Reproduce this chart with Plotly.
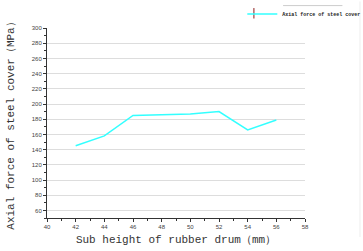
import plotly.graph_objects as go

x_vals = [42, 44, 46, 48, 50, 52, 54, 56]
y_vals = [145, 158, 185, 186, 187, 190, 166, 179]
series_name = "<b>Axial force of steel cover</b>"
x_title = "Sub height of rubber drum（mm）"
y_title = "Axial force of steel cover（MPa）"

fig = go.Figure()
fig.add_trace(go.Scatter(x=x_vals, y=y_vals, mode="lines", name=series_name,
                         line=dict(color="#33ffff", width=1.5)))

fig.update_layout(
    width=363, height=251,
    margin=dict(l=47, r=58, t=28, b=33, autoexpand=False),
    paper_bgcolor="white", plot_bgcolor="white",
    showlegend=True,
    legend=dict(x=0.757, y=1.074, xref="paper", yref="paper", xanchor="left", yanchor="middle",
                font=dict(family="Liberation Mono", size=5, color="#222"),
                bgcolor="rgba(0,0,0,0)", itemwidth=30, tracegroupgap=0),
    xaxis=dict(range=[40, 58], dtick=2, showgrid=False, zeroline=False,
               showline=True, linecolor="#333", linewidth=1,
               ticks="outside", ticklen=3, tickcolor="#333",
               minor=dict(ticks="outside", ticklen=2, dtick=1, tickcolor="#333"),
               tickfont=dict(family="Liberation Sans", size=6, color="#444"),
               title=dict(text=x_title, font=dict(family="Liberation Mono", size=11, color="#333"), standoff=6)),
    yaxis=dict(range=[50, 300], tick0=60, dtick=20, showgrid=True, gridcolor="#dddddd", gridwidth=1,
               zeroline=False, showline=True, linecolor="#333", linewidth=1,
               ticks="outside", ticklen=3, tickcolor="#333",
               minor=dict(ticks="outside", ticklen=2, dtick=10, tickcolor="#333"),
               tickfont=dict(family="Liberation Sans", size=6, color="#444"),
               title=dict(text=y_title, font=dict(family="Liberation Mono", size=11, color="#333"), standoff=14)),
)
fig.add_shape(type="line", xref="paper", yref="paper", x0=0.915, x1=1.145, y0=1.118, y1=1.118,
              line=dict(color="#cccccc", width=1))
fig.add_shape(type="line", xref="paper", yref="paper", x0=0.802, x1=0.802, y0=1.05, y1=1.105,
              line=dict(color="#8b1a1a", width=1))
fig.add_shape(type="line", xref="paper", yref="paper", x0=1.213, x1=1.213, y0=-0.1, y1=1.14,
              line=dict(color="#eeeeee", width=1))

fig.write_html("out.html")
